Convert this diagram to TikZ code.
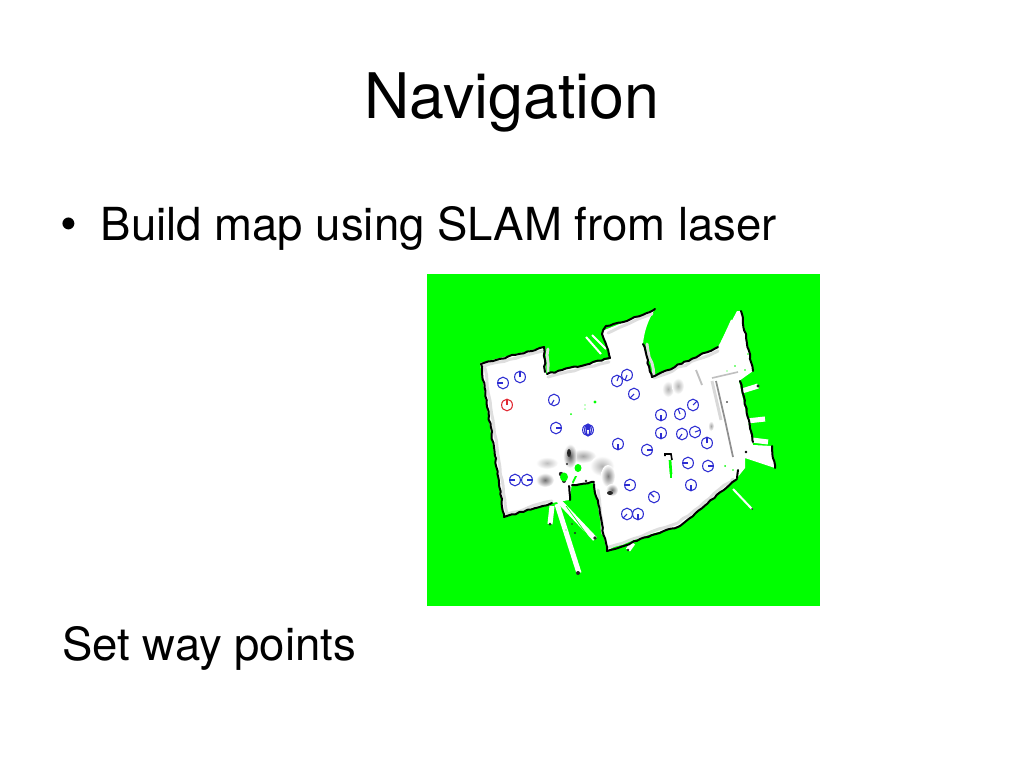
\documentclass[tikz,border=0pt]{standalone}
\usepackage{fontspec}
\setmainfont{TeX Gyre Heros}
\usetikzlibrary{decorations.pathmorphing}
\definecolor{mapgreen}{RGB}{0,255,0}
\definecolor{wpblue}{RGB}{45,45,210}
\definecolor{wpred}{RGB}{225,40,50}
\tikzset{
  wall/.style={draw=black,line width=1.5pt,line cap=round,line join=round,decorate,decoration={random steps,segment length=3pt,amplitude=0.6pt}},
  halo/.style={draw=black!13,line width=2.2pt,line cap=round,line join=round,decorate,decoration={random steps,segment length=5pt,amplitude=0.7pt}},
  ray/.style={draw=white,line width=3.8pt},
  thinray/.style={draw=white,line width=1.5pt},
  softblob/.style={inner color=black!#1,outer color=white},
  dark/.style={fill=black!85,draw=none},
  hole/.style={fill=mapgreen,draw=none},
  titletext/.style={font=\fontsize{47.1pt}{50pt}\selectfont,anchor=base,inner sep=0pt},
  bodytext/.style={font=\fontsize{34.15pt}{38pt}\selectfont,anchor=base west,inner sep=0pt},
  bullettext/.style={font=\fontsize{36pt}{40pt}\selectfont,anchor=base west,inner sep=0pt}
}
\newcommand{\wayp}[4][wpblue]{%
  \draw[#1,line width=.8pt] (#2,#3) ellipse[x radius=5.4,y radius=5.8];
  \draw[#1,line width=.8pt] (#2,#3) -- ++(-#4:5.5);}
\newcommand{\blob}[5]{\shade[softblob=#5] (#1,#2) ellipse[x radius=#3,y radius=#4];}
\begin{document}
\begin{tikzpicture}[x=0.75pt,y=-0.75pt]
\useasboundingbox (0,0) rectangle (1024,768);
\fill[white] (0,0) rectangle (1024,768);
\node[titletext] (title) at (512,118) {Navigation};
\node[bullettext] (bullet) at (60,240) {•};
\node[bodytext] (b1) at (100.5,240) {Build map using SLAM from laser};
\node[bodytext] (b2) at (62,660) {Set way points};
\fill[mapgreen] (427,274) rectangle (820,606);
% floor
\fill[white] (480,363)--(544,347)--(546,374)--(610,359)--(602,331)--(627,321)--(655,309)
  .. controls (648,320) and (644,332) .. (643,344)--(652,377)--(718,347)--(737,311)--(741,311)--(753,371)--(739,381)
  --(753,445)--(772,446)--(775,468)--(745,458)--(745,468)--(737,478)--(680,526)--(620,543)--(607,551)
  --(602,530)--(594,483)--(572,484)--(569,500)--(552,503)--(504,517)--cycle;
% soft inner wall shadow
\draw[halo] (484,366)--(543,351) (548,377)--(609,362) (608,333)--(652,314) (654,378)--(718,351);
\draw[halo] (485,368)--(507,514)--(552,501) (609,547)--(678,523)--(733,479);
\draw[halo] (603,534)--(598,490);
\draw[halo] (647,344)--(654,376);
\draw[halo] (548,349)--(548,372);
% smudges (drawn under everything else inside the floor)
\blob{545}{480}{9}{7}{55}
\blob{547}{463}{11}{6}{25}
\blob{583}{456}{13}{7}{35}
\blob{602}{466}{12}{10}{30}
\blob{608}{476}{7}{11}{50}
\blob{570}{456}{7}{12}{65}
\blob{612}{490}{6}{6}{55}
\blob{668}{389}{6}{8}{30}
\blob{678}{386}{6}{8}{30}
\blob{711}{426}{3}{5}{35}
% rays
\draw[ray] (557,504)--(579,573);
\draw[ray] (559,501)--(595,539);
\draw[ray] (552,506)--(550,524);
\draw[ray] (742,391)--(758,386);
\draw[ray] (747,421)--(765,419);
\draw[ray] (752,440)--(768,442);
\draw[thinray] (733,489)--(752,509);
\draw[ray] (633,543)--(628,550);
\draw[thinray] (592,335)--(606,349);
\draw[thinray] (586,337)--(601,354);
\draw[thinray] (732,320)--(722,342);
\fill[hole] (566,530) circle[radius=.7];
\draw[mapgreen,line width=.5pt] (566,506)--(588,536);
% walls
\draw[wall] (481,364)--(544,347);
\draw[wall] (544,347)--(545,372);
\draw[wall] (547,374)--(610,358);
\draw[wall] (610,358)--(602,334)--(606,326)--(627,321)--(655,309);
\draw[wall] (643,344)--(652,377)--(718,347);
\draw[wall] (741,311)--(753,371);
\draw[wall] (740,381)--(753,442);
\draw[wall] (772,446)--(775,468);
\draw[wall] (481,364)--(504,517)--(552,503);
\draw[wall] (607,551)--(680,526)--(737,479);
\draw[wall] (737,478)--(738,470);
\draw[wall] (607,551)--(594,484);
\draw[wall] (570,500)--(569,486);
\draw[wall] (572,485)--(594,482);
\fill[dark] (578,573) circle[radius=2];
\fill[dark] (595,538) circle[radius=1.8];
\fill[dark] (550,524) circle[radius=1.5];
\fill[dark] (758,386) circle[radius=1.6];
\fill[dark] (752,509) circle[radius=1];
\fill[dark] (628,550) circle[radius=1.3];
\fill[dark] (575,533) circle[radius=1.2] (572,524) circle[radius=.8];
% interior marks
\draw[black!55,line width=1.3pt,opacity=.8] (716,381)--(725,420)--(733,457);
\draw[black!15,line width=2.2pt] (712,381)--(721,420);
\draw[black!25,line width=1.4pt] (696,370)--(702,385);
\draw[black!25,line width=1.2pt] (712,378)--(738,372);
\fill[dark] (569,453) ellipse[x radius=2,y radius=4] (567,464) circle[radius=1.2] (561,474) circle[radius=2.2] (564,481) circle[radius=2] (586,481) circle[radius=1.4];
\fill[dark] (610,493) ellipse[x radius=3,y radius=2];
\fill[hole] (564,477) ellipse[x radius=4,y radius=4.5];
\fill[hole] (578,468) ellipse[x radius=3.5,y radius=4];
\fill[hole] (572,482)--(575,476)--(577,476)--(573,484)--cycle;
% small artefacts
\fill[hole] (595,402) circle[radius=1.7] (571,414) circle[radius=1] (585,405) circle[radius=.6] (585,409) circle[radius=.6];
\fill[hole] (735,366) circle[radius=.8] (745,370) circle[radius=.8] (727,371) circle[radius=.6] (748,354) circle[radius=.8] (725,466) circle[radius=1] (733,470) circle[radius=.8];
\fill[black] (727,402) circle[radius=.9] (746,452) circle[radius=1.3];
\draw[black,line width=1.2pt] (665,456)--(665,454)--(671,454)--(672,460);
\draw[mapgreen,line width=2pt] (670,460)--(671,474);
\draw[mapgreen,line width=.8pt] (671,474)--(671,478);
% way points
\wayp{503}{383}{180}
\wayp{520}{377}{90}
\wayp[wpred]{507}{405}{90}
\wayp{554}{400}{240}
\wayp{556}{428}{0}
\wayp{588}{430}{90}
\draw[wpblue,line width=.8pt] (588,430) ellipse[x radius=3.4,y radius=5.8] (588,430) ellipse[x radius=1.6,y radius=5.8];
\wayp{617}{381}{70}
\wayp{627}{375}{250}
\wayp{634}{394}{225}
\wayp{661}{415}{270}
\wayp{680}{414}{110}
\wayp{693}{405}{45}
\wayp{661}{433}{270}
\wayp{682}{434}{235}
\wayp{695}{432}{20}
\wayp{707}{443}{90}
\wayp{515}{480}{180}
\wayp{527}{480}{0}
\wayp{618}{444}{270}
\wayp{630}{485}{180}
\wayp{654}{497}{135}
\wayp{627}{514}{225}
\wayp{638}{514}{270}
\wayp{647}{450}{0}
\wayp{688}{463}{180}
\wayp{708}{466}{0}
\wayp{691}{485}{270}
\end{tikzpicture}
\end{document}
